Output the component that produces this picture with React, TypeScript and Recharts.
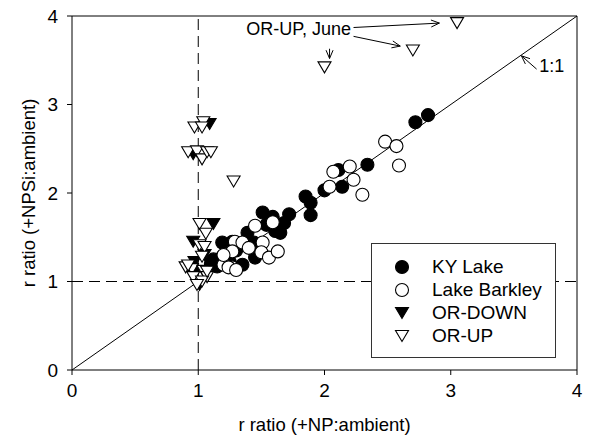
import { ScatterChart, Scatter, XAxis, YAxis, ReferenceLine, ReferenceDot, Legend } from 'recharts'

const FONT = '"Liberation Sans", Arial, Helvetica, sans-serif'

// [r ratio (+NP:ambient), r ratio (+NPSi:ambient)]
const kyLake = [
  [1.85, 1.96], [1.89, 1.89], [1.89, 1.75], [1.72, 1.76], [1.51, 1.78], [1.59, 1.73],
  [1.61, 1.57], [1.65, 1.55], [1.54, 1.64], [1.39, 1.55], [1.44, 1.44], [1.45, 1.27],
  [1.35, 1.19], [1.19, 1.44], [1.27, 1.45], [1.12, 1.25], [1.15, 1.17], [1.19, 1.28],
  [2.0, 2.03], [2.14, 2.07], [2.11, 2.26], [2.34, 2.32], [2.72, 2.8], [2.82, 2.88],
  [1.3, 1.35], [1.25, 1.22], [1.1, 1.2], [1.68, 1.66],
]
const lakeBarkley = [
  [2.48, 2.58], [2.57, 2.53], [2.59, 2.31], [2.2, 2.3], [2.23, 2.15], [2.07, 2.24],
  [2.3, 1.98], [2.04, 2.07], [1.59, 1.67], [1.45, 1.63], [1.29, 1.45], [1.35, 1.44],
  [1.51, 1.44], [1.5, 1.33], [1.56, 1.27], [1.63, 1.34], [1.27, 1.34], [1.27, 1.16],
  [1.2, 1.19], [1.24, 1.16], [1.3, 1.13], [1.4, 1.38], [1.2, 1.3],
]
const orDown = [
  [1.09, 2.78], [0.96, 2.44], [1.12, 1.65], [0.96, 1.45], [0.98, 1.11], [1.01, 0.96],
  [1.05, 1.3], [1.1, 1.2], [0.97, 1.22],
]
const orUp = [
  [0.97, 2.74], [1.04, 2.8], [1.03, 2.74], [0.92, 2.46], [0.99, 2.47], [1.03, 2.38],
  [1.07, 2.46], [1.1, 2.46], [1.28, 2.13], [2.0, 3.42], [2.7, 3.61], [3.05, 3.92],
  [1.01, 1.65], [1.06, 1.54], [1.01, 1.41], [1.05, 1.39], [1.03, 1.28], [0.9, 1.16],
  [0.95, 1.14], [1.04, 1.12], [1.07, 1.05], [0.96, 1.05], [1.03, 1.0], [0.99, 0.96],
  [1.07, 1.11], [0.92, 1.18],
]

const ticks = [0, 1, 2, 3, 4]

// annotation arrows: [from, to]
const juneArrows = [
  [[2.23, 3.87], [2.91, 3.92]],
  [[2.23, 3.77], [2.6, 3.66]],
  [[2.04, 3.63], [2.04, 3.52]],
]
const oneToOneArrow = [[3.68, 3.4], [3.56, 3.55]]

const toPts = (arr: number[][]) => arr.map(([x, y]) => ({ x, y }))

const Circle = (filled: boolean) => (p: any) => (
  <circle cx={p.cx} cy={p.cy} r={6.5} fill={filled ? '#000' : '#fff'} stroke="#000" strokeWidth={1.1} />
)

const Tri = (filled: boolean) => (p: any) => {
  const w = 13, h = 11
  const pts = `${p.cx - w / 2},${p.cy - h / 2} ${p.cx + w / 2},${p.cy - h / 2} ${p.cx},${p.cy + h / 2}`
  return <polygon points={pts} fill={filled ? '#000' : '#fff'} stroke="#000" strokeWidth={1.1} />
}

const Arrow = (p: any) => {
  const { x1, y1, x2, y2 } = p
  const a = Math.atan2(y2 - y1, x2 - x1)
  const L = 9, s = 0.4
  const h1 = `${x2 - L * Math.cos(a - s)},${y2 - L * Math.sin(a - s)}`
  const h2 = `${x2 - L * Math.cos(a + s)},${y2 - L * Math.sin(a + s)}`
  return (
    <g>
      <line x1={x1} y1={y1} x2={x2} y2={y2} stroke="#000" strokeWidth={1} />
      <polyline points={`${h1} ${x2},${y2} ${h2}`} fill="none" stroke="#000" strokeWidth={1} />
    </g>
  )
}

const series = [
  { name: 'KY Lake', shape: Circle(true) },
  { name: 'Lake Barkley', shape: Circle(false) },
  { name: 'OR-DOWN', shape: Tri(true) },
  { name: 'OR-UP', shape: Tri(false) },
]

const LegendBox = () => (
  <div style={{ border: '1px solid #333', background: '#fff', width: 185, height: 115, boxSizing: 'border-box', paddingTop: 11, fontFamily: FONT }}>
    {series.map(s => (
      <div key={s.name} style={{ display: 'flex', alignItems: 'center', height: 23 }}>
        <svg width={60} height={20}>
          {s.shape({ cx: 30, cy: 10 })}
        </svg>
        <span style={{ fontSize: 19, color: '#000' }}>{s.name}</span>
      </div>
    ))}
  </div>
)

export default function App() {
  const tickStyle = { fill: '#000', fontSize: 19, fontFamily: FONT }
  return (
    <div style={{ position: 'absolute', left: 0, top: 0, background: '#fff' }}>
      <ScatterChart width={592} height={441} margin={{ top: 16, right: 15, bottom: 0, left: 0 }}>
        <XAxis type="number" dataKey="x" domain={[0, 4]} ticks={ticks} height={71}
          tick={tickStyle} tickSize={5} tickMargin={9} stroke="#000"
          label={{
            content: ({ viewBox }: any) => (
              <text x={viewBox.x + viewBox.width / 2} y={viewBox.y + 61} textAnchor="middle"
                fontSize={18.5} fontFamily={FONT} fill="#000">r ratio (+NP:ambient)</text>
            ),
          }} />
        <YAxis type="number" dataKey="y" domain={[0, 4]} ticks={ticks} width={72}
          tick={tickStyle} tickSize={5} tickMargin={9} stroke="#000"
          label={{
            content: ({ viewBox }: any) => {
              const cx = 28, cy = viewBox.y + viewBox.height / 2
              return (
                <text x={cx} y={cy} transform={`rotate(-90 ${cx} ${cy})`} textAnchor="middle"
                  dominantBaseline="central" fontSize={18.5} fontFamily={FONT} fill="#000">r ratio (+NPSi:ambient)</text>
              )
            },
          }} />
        <ReferenceLine y={4} stroke="#000" strokeWidth={1} />
        <ReferenceLine x={4} stroke="#000" strokeWidth={1} />
        <ReferenceLine x={1} stroke="#000" strokeDasharray="11 6" strokeWidth={1} />
        <ReferenceLine y={1} stroke="#000" strokeDasharray="11 6" strokeWidth={1} />
        <ReferenceLine segment={[{ x: 0, y: 0 }, { x: 4, y: 4 }]} stroke="#000" strokeWidth={1} />
        <Scatter name="KY Lake" data={toPts(kyLake)} shape={series[0].shape} isAnimationActive={false} />
        <Scatter name="Lake Barkley" data={toPts(lakeBarkley)} shape={series[1].shape} isAnimationActive={false} />
        <Scatter name="OR-DOWN" data={toPts(orDown)} shape={series[2].shape} isAnimationActive={false} />
        <Scatter name="OR-UP" data={toPts(orUp)} shape={series[3].shape} isAnimationActive={false} />
        {juneArrows.map((a, i) => (
          <ReferenceLine key={i} segment={[{ x: a[0][0], y: a[0][1] }, { x: a[1][0], y: a[1][1] }]} shape={Arrow} />
        ))}
        <ReferenceLine segment={[{ x: oneToOneArrow[0][0], y: oneToOneArrow[0][1] }, { x: oneToOneArrow[1][0], y: oneToOneArrow[1][1] }]} shape={Arrow} />
        <ReferenceDot x={2.21} y={3.85} r={0} shape={(p: any) => (
          <text x={p.cx} y={p.cy} textAnchor="end" dominantBaseline="central" fontSize={18} fontFamily={FONT} fill="#000">OR-UP, June</text>
        )} />
        <ReferenceDot x={3.8} y={3.43} r={0} shape={(p: any) => (
          <text x={p.cx} y={p.cy} textAnchor="middle" dominantBaseline="central" fontSize={18} fontFamily={FONT} fill="#000">1:1</text>
        )} />
        <Legend layout="vertical" align="center" verticalAlign="middle" content={LegendBox}
          wrapperStyle={{ position: 'absolute', left: 371, top: 243, width: 185, height: 115 }} />
      </ScatterChart>
    </div>
  )
}
